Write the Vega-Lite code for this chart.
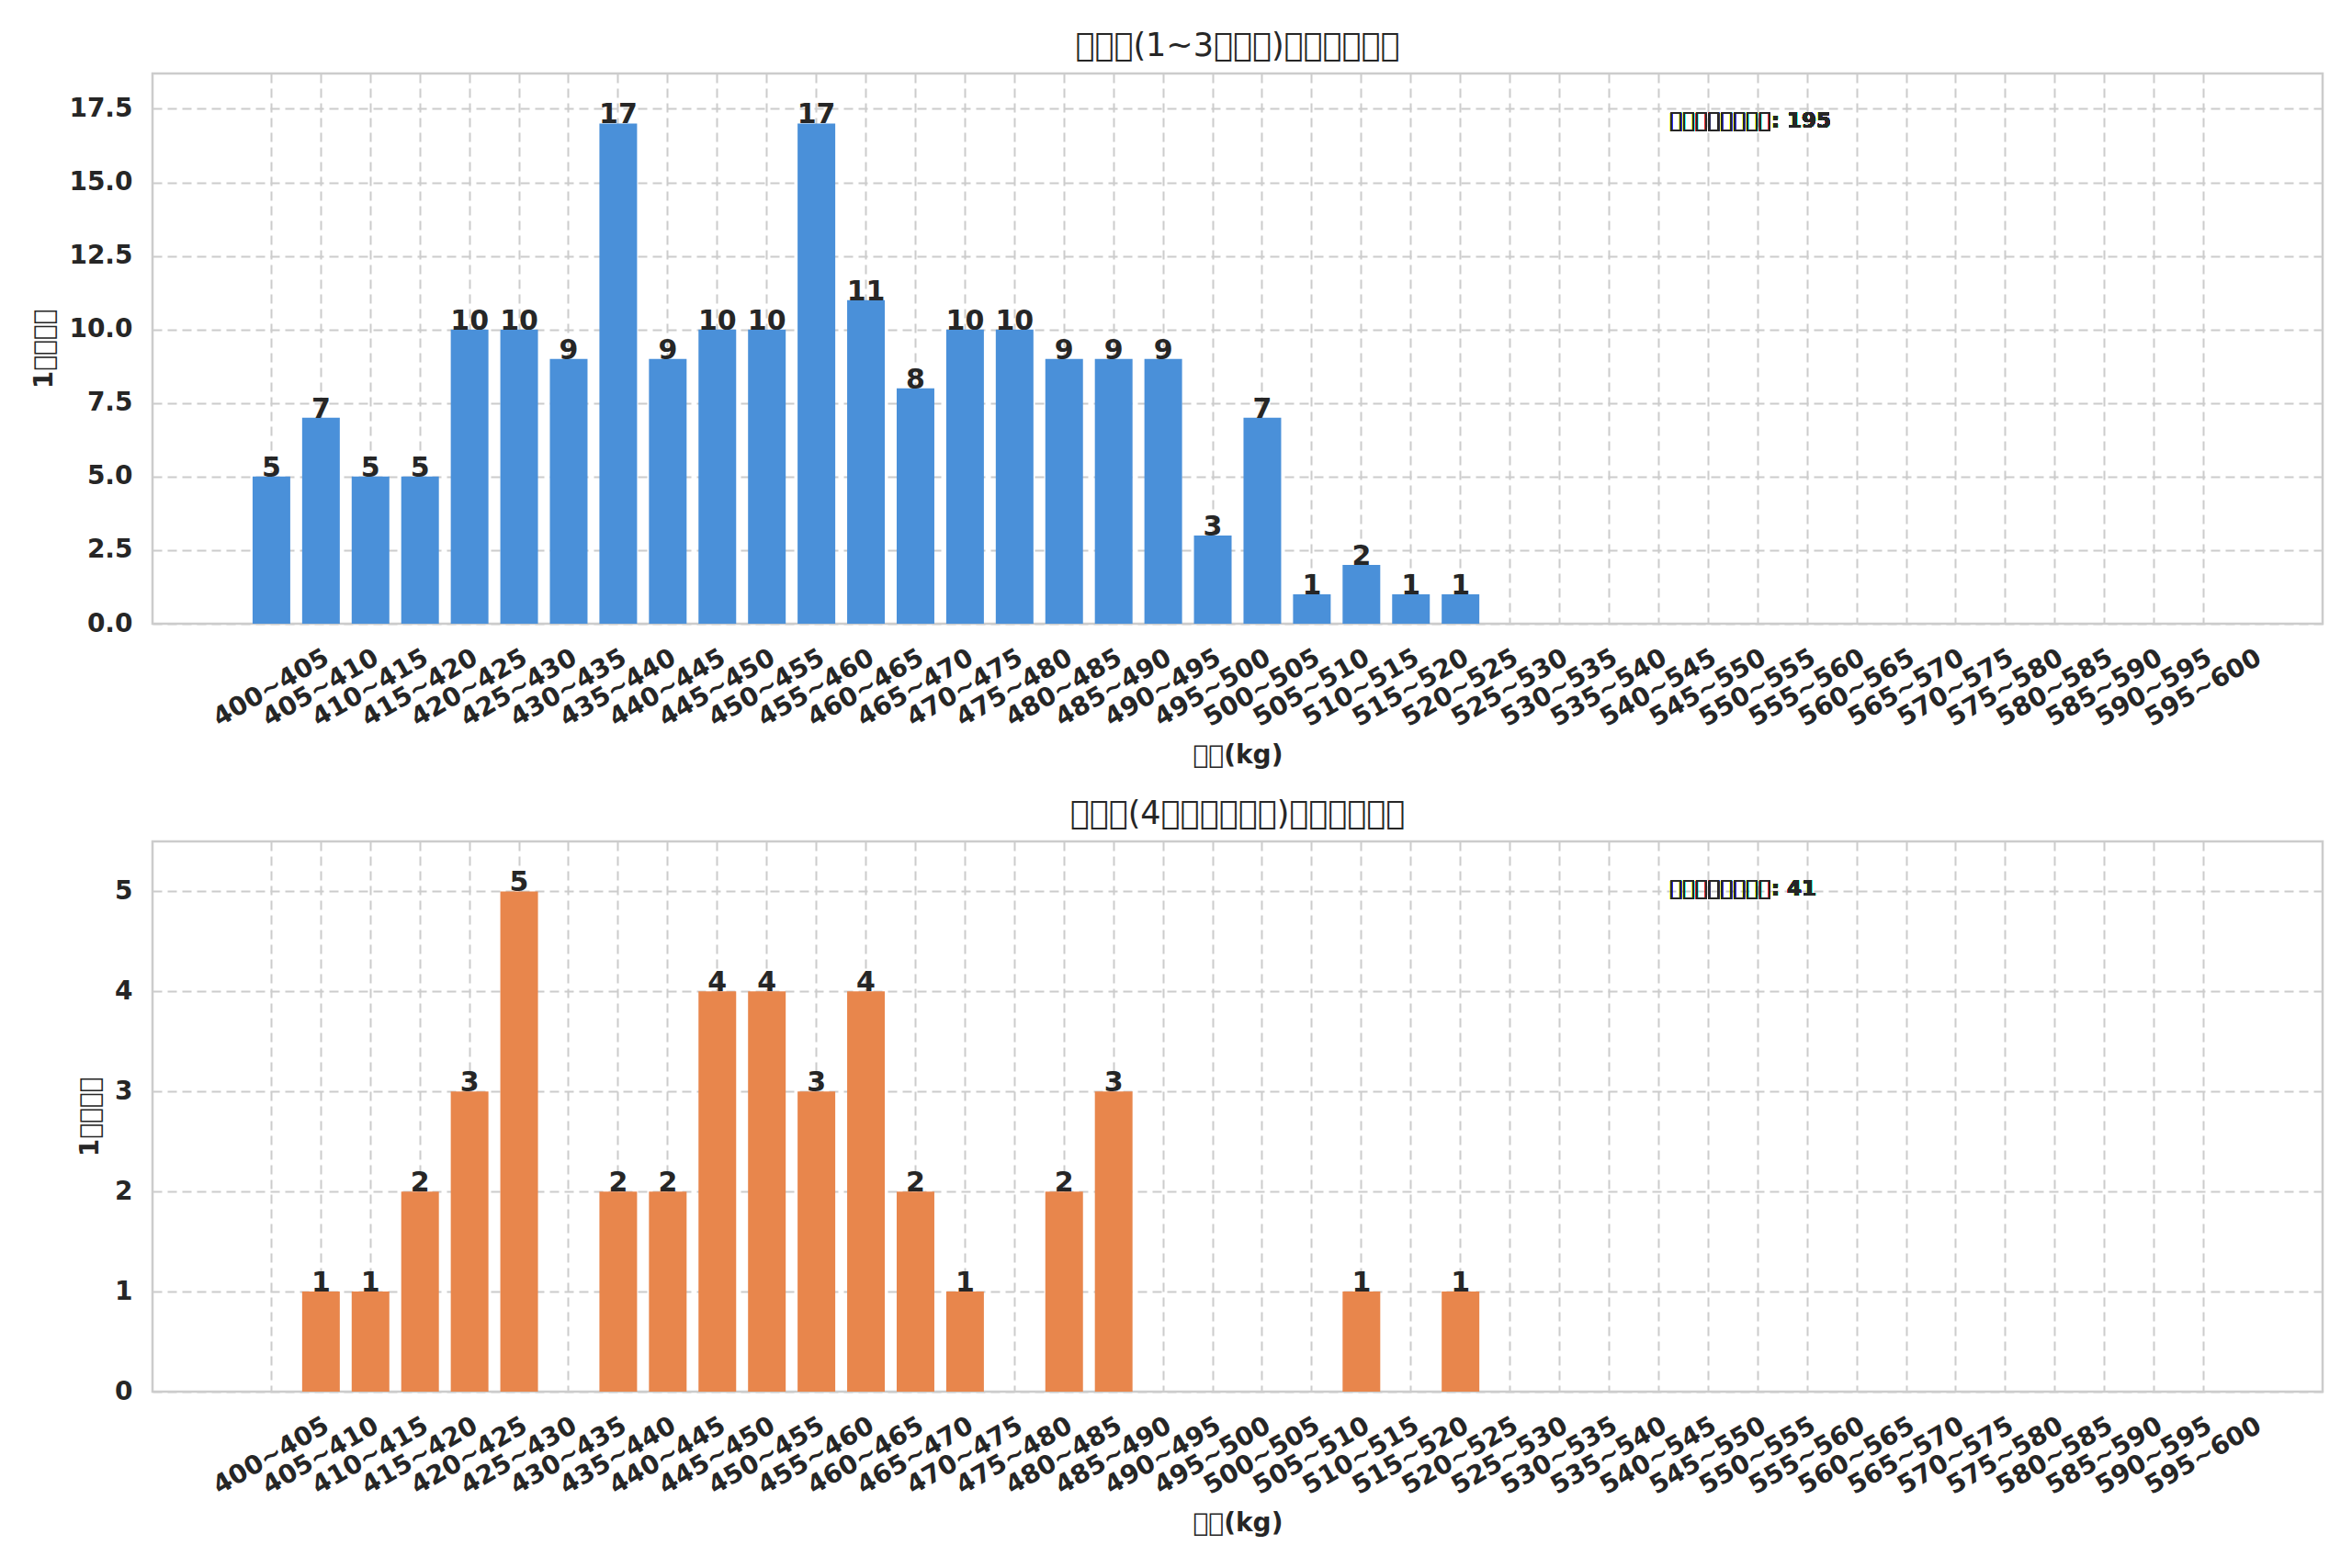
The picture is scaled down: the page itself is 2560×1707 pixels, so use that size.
{
  "$schema": "https://vega.github.io/schema/vega-lite/v6.json",
  "background": "white",
  "padding": {"left": 33, "top": 31, "right": 0, "bottom": 0},
  "datasets": {
    "young": [
      {"range": "400~405", "count": 5}, {"range": "405~410", "count": 7}, {"range": "410~415", "count": 5}, {"range": "415~420", "count": 5},
      {"range": "420~425", "count": 10}, {"range": "425~430", "count": 10}, {"range": "430~435", "count": 9}, {"range": "435~440", "count": 17},
      {"range": "440~445", "count": 9}, {"range": "445~450", "count": 10}, {"range": "450~455", "count": 10}, {"range": "455~460", "count": 17},
      {"range": "460~465", "count": 11}, {"range": "465~470", "count": 8}, {"range": "470~475", "count": 10}, {"range": "475~480", "count": 10},
      {"range": "480~485", "count": 9}, {"range": "485~490", "count": 9}, {"range": "490~495", "count": 9}, {"range": "495~500", "count": 3},
      {"range": "500~505", "count": 7}, {"range": "505~510", "count": 1}, {"range": "510~515", "count": 2}, {"range": "515~520", "count": 1},
      {"range": "520~525", "count": 1}, {"range": "525~530", "count": 0}, {"range": "530~535", "count": 0}, {"range": "535~540", "count": 0},
      {"range": "540~545", "count": 0}, {"range": "545~550", "count": 0}, {"range": "550~555", "count": 0}, {"range": "555~560", "count": 0},
      {"range": "560~565", "count": 0}, {"range": "565~570", "count": 0}, {"range": "570~575", "count": 0}, {"range": "575~580", "count": 0},
      {"range": "580~585", "count": 0}, {"range": "585~590", "count": 0}, {"range": "590~595", "count": 0}, {"range": "595~600", "count": 0}
    ],
    "old": [
      {"range": "400~405", "count": 0}, {"range": "405~410", "count": 1}, {"range": "410~415", "count": 1}, {"range": "415~420", "count": 2},
      {"range": "420~425", "count": 3}, {"range": "425~430", "count": 5}, {"range": "430~435", "count": 0}, {"range": "435~440", "count": 2},
      {"range": "440~445", "count": 2}, {"range": "445~450", "count": 4}, {"range": "450~455", "count": 4}, {"range": "455~460", "count": 3},
      {"range": "460~465", "count": 4}, {"range": "465~470", "count": 2}, {"range": "470~475", "count": 1}, {"range": "475~480", "count": 0},
      {"range": "480~485", "count": 2}, {"range": "485~490", "count": 3}, {"range": "490~495", "count": 0}, {"range": "495~500", "count": 0},
      {"range": "500~505", "count": 0}, {"range": "505~510", "count": 0}, {"range": "510~515", "count": 1}, {"range": "515~520", "count": 0},
      {"range": "520~525", "count": 1}, {"range": "525~530", "count": 0}, {"range": "530~535", "count": 0}, {"range": "535~540", "count": 0},
      {"range": "540~545", "count": 0}, {"range": "545~550", "count": 0}, {"range": "550~555", "count": 0}, {"range": "555~560", "count": 0},
      {"range": "560~565", "count": 0}, {"range": "565~570", "count": 0}, {"range": "570~575", "count": 0}, {"range": "575~580", "count": 0},
      {"range": "580~585", "count": 0}, {"range": "585~590", "count": 0}, {"range": "590~595", "count": 0}, {"range": "595~600", "count": 0}
    ]
  },
  "config": {
    "font": "DejaVu Sans",
    "view": {"stroke": "#cccccc", "strokeWidth": 2.5},
    "axis": {
      "domain": false,
      "ticks": false,
      "grid": true,
      "gridColor": "#cccccc",
      "gridDash": [10, 6],
      "gridWidth": 2,
      "labelFont": "DejaVu Sans",
      "labelFontSize": 28,
      "labelFontWeight": "bold",
      "labelColor": "#262626",
      "titleFont": "DejaVu Sans",
      "titleFontSize": 28,
      "titleFontWeight": "bold",
      "titleColor": "#262626"
    },
    "axisX": {
      "labelAngle": -30,
      "labelAlign": "center",
      "labelBaseline": "middle",
      "labelPadding": 70,
      "bandPosition": 0.5,
      "titlePadding": 12
    },
    "scale": {"bandPaddingInner": 0.2, "bandPaddingOuter": 0},
    "title": {"font": "DejaVu Sans", "fontSize": 35, "fontWeight": "normal", "color": "#262626", "offset": 12},
    "concat": {"spacing": 29}
  },
  "vconcat": [
    {
      "title": "\ue000\ue000\ue000(1~3\ue000\ue000\ue000)\ue000\ue000\ue000\ue000\ue000\ue000",
      "width": 2362,
      "height": 599,
      "data": {"name": "young"},
      "layer": [
        {
          "mark": {"type": "bar", "color": "#4a90d9", "width": {"band": 0.95}},
          "encoding": {
            "x": {
              "field": "range", "type": "nominal",
              "scale": {"domain": [" ", "  ", "400~405", "405~410", "410~415", "415~420", "420~425", "425~430", "430~435", "435~440", "440~445", "445~450",
                 "450~455", "455~460", "460~465", "465~470", "470~475", "475~480", "480~485", "485~490", "490~495", "495~500",
                 "500~505", "505~510", "510~515", "515~520", "520~525", "525~530", "530~535", "535~540", "540~545", "545~550",
                 "550~555", "555~560", "560~565", "565~570", "570~575", "575~580", "580~585", "585~590", "590~595", "595~600", "   ", "    "]},
              "axis": {
                "title": "\ue000\ue000(kg)",
                "values": ["400~405", "405~410", "410~415", "415~420", "420~425", "425~430", "430~435", "435~440", "440~445", "445~450",
                 "450~455", "455~460", "460~465", "465~470", "470~475", "475~480", "480~485", "485~490", "490~495", "495~500",
                 "500~505", "505~510", "510~515", "515~520", "520~525", "525~530", "530~535", "535~540", "540~545", "545~550",
                 "550~555", "555~560", "560~565", "565~570", "570~575", "575~580", "580~585", "585~590", "590~595", "595~600"]
              }
            },
            "y": {
              "field": "count", "type": "quantitative",
              "scale": {"domain": [0, 18.7], "nice": false},
              "axis": {"values": [0, 2.5, 5, 7.5, 10, 12.5, 15, 17.5], "format": ".1f", "title": "1\ue000\ue000\ue000\ue000", "labelPadding": 22, "titlePadding": 12}
            }
          }
        },
        {
          "transform": [{"filter": "datum.count > 0"}],
          "mark": {"type": "text", "baseline": "alphabetic", "fontSize": 30, "fontWeight": "bold", "color": "#262626"},
          "encoding": {
            "x": {"field": "range", "type": "nominal"},
            "y": {"field": "count", "type": "quantitative"},
            "text": {"field": "count"}
          }
        },
        {
          "mark": {"type": "text", "text": "\ue000\ue000\ue000\ue000\ue000\ue000\ue000\ue000: 195", "align": "left", "baseline": "middle", "fontSize": 23, "fontWeight": "bold", "color": "#262626", "dx": 12},
          "encoding": {
            "x": {"datum": "540~545"},
            "y": {"datum": 17.07}
          }
        }
      ]
    },
    {
      "title": "\ue000\ue000\ue000(4\ue000\ue000\ue000\ue000\ue000\ue000)\ue000\ue000\ue000\ue000\ue000\ue000",
      "width": 2362,
      "height": 599,
      "data": {"name": "old"},
      "layer": [
        {
          "mark": {"type": "bar", "color": "#e8864c", "width": {"band": 0.95}},
          "encoding": {
            "x": {
              "field": "range", "type": "nominal",
              "scale": {"domain": [" ", "  ", "400~405", "405~410", "410~415", "415~420", "420~425", "425~430", "430~435", "435~440", "440~445", "445~450",
                 "450~455", "455~460", "460~465", "465~470", "470~475", "475~480", "480~485", "485~490", "490~495", "495~500",
                 "500~505", "505~510", "510~515", "515~520", "520~525", "525~530", "530~535", "535~540", "540~545", "545~550",
                 "550~555", "555~560", "560~565", "565~570", "570~575", "575~580", "580~585", "585~590", "590~595", "595~600", "   ", "    "]},
              "axis": {
                "title": "\ue000\ue000(kg)",
                "values": ["400~405", "405~410", "410~415", "415~420", "420~425", "425~430", "430~435", "435~440", "440~445", "445~450",
                 "450~455", "455~460", "460~465", "465~470", "470~475", "475~480", "480~485", "485~490", "490~495", "495~500",
                 "500~505", "505~510", "510~515", "515~520", "520~525", "525~530", "530~535", "535~540", "540~545", "545~550",
                 "550~555", "555~560", "560~565", "565~570", "570~575", "575~580", "580~585", "585~590", "590~595", "595~600"]
              }
            },
            "y": {
              "field": "count", "type": "quantitative",
              "scale": {"domain": [0, 5.5], "nice": false},
              "axis": {"values": [0, 1, 2, 3, 4, 5], "format": "d", "title": "1\ue000\ue000\ue000\ue000", "labelPadding": 22, "titlePadding": 12}
            }
          }
        },
        {
          "transform": [{"filter": "datum.count > 0"}],
          "mark": {"type": "text", "baseline": "alphabetic", "fontSize": 30, "fontWeight": "bold", "color": "#262626"},
          "encoding": {
            "x": {"field": "range", "type": "nominal"},
            "y": {"field": "count", "type": "quantitative"},
            "text": {"field": "count"}
          }
        },
        {
          "mark": {"type": "text", "text": "\ue000\ue000\ue000\ue000\ue000\ue000\ue000\ue000: 41", "align": "left", "baseline": "middle", "fontSize": 23, "fontWeight": "bold", "color": "#262626", "dx": 12},
          "encoding": {
            "x": {"datum": "540~545"},
            "y": {"datum": 5.02}
          }
        }
      ]
    }
  ]
}
